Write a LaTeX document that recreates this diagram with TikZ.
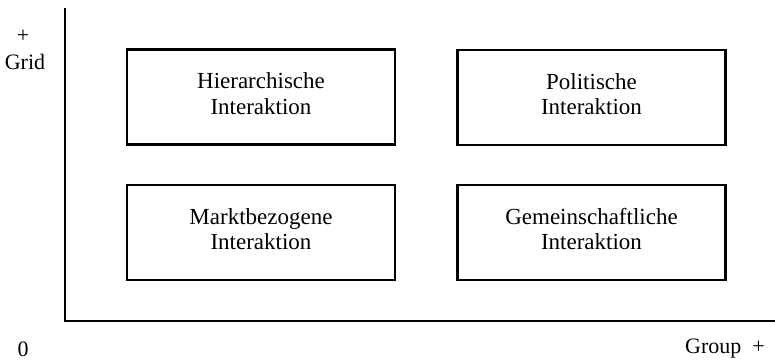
\documentclass[tikz,border=0pt]{standalone}
\usepackage{fontspec}
\setmainfont{Liberation Serif}
\usetikzlibrary{positioning, calc}

\begin{document}
\begin{tikzpicture}[x=1pt, y=-1pt,
        feld/.style={draw, line width=2.2pt, minimum width=268pt, minimum height=95pt,
                     align=center, inner sep=0pt, font=\fontsize{23}{25.5}\selectfont},
        achse/.style={line width=1.6pt},
        beschr/.style={inner sep=0pt, font=\fontsize{22}{25}\selectfont}]
        \useasboundingbox (0,0) rectangle (775,363);
        \coordinate[] (O) at (65,321);
        \coordinate[] (GridEnd) at (65,8);
        \coordinate[] (GroupEnd) at (775,321);
        \draw[achse] (GridEnd) -- (O) -- (GroupEnd);
        \node[feld] (hier) at (261,97) {};
        \node[feld] (poli) at (591.5,97.5) {};
        \node[feld] (markt) at (261,232.5) {};
        \node[feld] (gemein) at (591.5,232.5) {};
        \node[align=center, inner sep=0pt, font=\fontsize{23}{25.5}\selectfont] (hierText) at ($(hier) + (0,-3.5)$) {Hierarchische\\Interaktion};
        \node[align=center, inner sep=0pt, font=\fontsize{23}{25.5}\selectfont] (poliText) at ($(poli) + (0,-3.5)$) {Politische\\Interaktion};
        \node[align=center, inner sep=0pt, font=\fontsize{23}{25.5}\selectfont] (marktText) at ($(markt) + (0,-3.5)$) {Marktbezogene\\Interaktion};
        \node[align=center, inner sep=0pt, font=\fontsize{23}{25.5}\selectfont] (gemeinText) at ($(gemein) + (0,-3.5)$) {Gemeinschaftliche\\Interaktion};
        \node[beschr] (plusGrid) at (23,36) {+};
        \node[beschr] (grid) at (25,62) {Grid};
        \node[beschr] (null) at (23,349) {0};
        \node[beschr] (group) at (725,349) {Group\ \ +};
    \end{tikzpicture}
\end{document}
